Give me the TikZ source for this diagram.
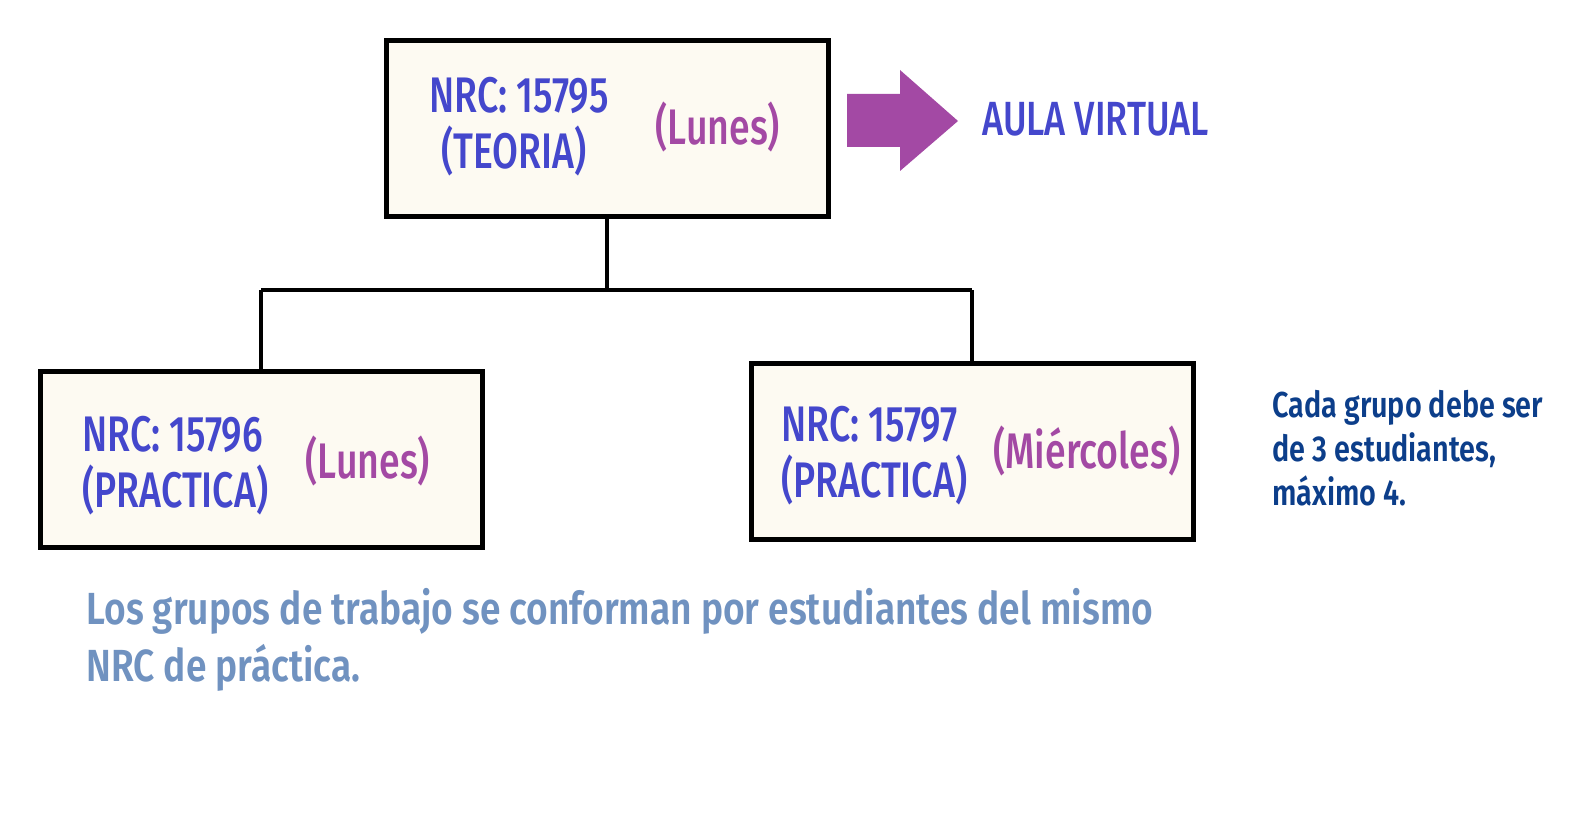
\documentclass[tikz,border=0pt]{standalone}
\usepackage{fontspec}
\setmainfont{Fira Sans}[FakeStretch=0.78]
\newfontfamily\medio{Fira Sans Medium}[FakeStretch=0.75]
\newfontfamily\semi{Fira Sans SemiBold}[FakeStretch=0.8]
\newfontfamily\semiancho{Fira Sans SemiBold}[FakeStretch=0.825]
\definecolor{crema}{RGB}{253,250,242}
\definecolor{azul}{RGB}{68,71,204}
\definecolor{morado}{RGB}{163,73,164}
\definecolor{marino}{RGB}{12,62,138}
\definecolor{acero}{RGB}{112,146,192}
\tikzset{
	caja/.style={draw=black, line width=2.5pt, fill=crema, minimum width=221pt, minimum height=88pt},
	nrc/.style={anchor=base west, inner sep=0pt, text=azul, align=left, font=\medio\fontsize{25}{28}\selectfont},
	dia/.style={anchor=base west, inner sep=0pt, text=morado, font=\medio\fontsize{25}{28}\selectfont},
	nota/.style={anchor=base west, inner sep=0pt, align=left, font=\semi\fontsize{18}{22}\selectfont}
}
\begin{document}
\begin{tikzpicture}[x=0.5pt, y=-0.5pt]
		\useasboundingbox (0,0) rectangle (1594,818);
		% cajas
		\node[caja] (teoria) at (607,129) {};
		\node[caja] (prac1) at (261,459) {};
		\node[caja] (prac2) at (972,451) {};
		% conectores
		\coordinate (union) at (607,290);
		\draw[line width=2.3pt] (teoria.south) -- (union);
		\draw[line width=2.3pt] (prac1.north |- union) -- (prac2.north |- union);
		\draw[line width=2.3pt] (prac1.north |- union) -- (prac1.north);
		\draw[line width=2.3pt] (prac2.north |- union) -- (prac2.north);
		% textos de las cajas (base = ultima linea)
		\node[nrc] (t1) at (429,169) {NRC: 15795\\\hspace{6pt}(TEORIA)};
		\node[dia] (d1) at (655,145) {(Lunes)};
		\node[nrc] (t2) at (82,507) {NRC: 15796\\(PRACTICA)};
		\node[dia] (d2) at (305,478) {(Lunes)};
		\node[nrc] (t3) at (781,497) {NRC: 15797\\(PRACTICA)};
		\node[dia] (d3) at (993,468) {(Miércoles)};
		% flecha
		\fill[morado] (847,94) -- (900,94) -- (900,70) -- (958,121) -- (900,171) -- (900,147) -- (847,147) -- cycle;
		\node[anchor=base west, inner sep=0pt, text=azul, font=\medio\fontsize{24}{28}\selectfont] (aula) at (982,136) {AULA VIRTUAL};
		% notas
		\node[nota, text=marino] (grupo) at (1272,505) {Cada grupo debe ser\\de 3 estudiantes,\\máximo 4.};
		\node[nota, text=acero, font=\semiancho\fontsize{22.5}{28.5}\selectfont] (regla) at (86,681) {Los grupos de trabajo se conforman por estudiantes del mismo\\NRC de práctica.};
\end{tikzpicture}
\end{document}
